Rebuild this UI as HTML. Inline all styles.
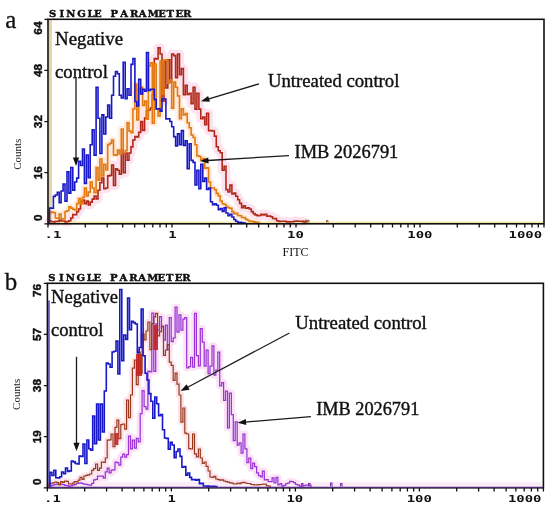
<!DOCTYPE html>
<html><head><meta charset="utf-8"><style>
*{margin:0;padding:0}
html,body{width:550px;height:508px;background:#fff;overflow:hidden}
svg{display:block}
.hdr{font-family:"DejaVu Serif",serif;font-weight:bold;font-size:10px;fill:#111;stroke:#111;stroke-width:0.45px}
.let{font-family:"Liberation Serif",serif;font-size:25px;fill:#111;stroke:#111;stroke-width:0.3px}
.tl{font-family:"DejaVu Sans Mono",monospace;font-weight:bold;font-size:9.4px;fill:#111}
.yl{font-family:"Liberation Sans",sans-serif;font-weight:bold;font-size:11.8px;fill:#111;stroke:#111;stroke-width:0.45px}
.ax{font-family:"Liberation Serif",serif;font-size:11px;fill:#222}
.fitc{font-family:"Liberation Serif",serif;font-size:12px;fill:#111}
.ann{font-family:"Liberation Serif",serif;font-size:18.5px;fill:#111;stroke:#111;stroke-width:0.4px}
</style></head>
<body><svg width="550" height="508" viewBox="0 0 550 508">
<path d="M49.5 223.8V221.0H51.4V221.7H53.4V222.0H55.3V221.2H57.3V221.4H59.2V220.0H61.1V221.0H63.1V221.0H65.0V222.0H67.0V221.5H68.9V220.7H70.8V218.0H72.8V214.6H74.7V214.7H76.7V211.8H78.6V209.0H80.5V201.4H82.5V200.0H84.4V203.6H86.4V201.1H88.3V205.0H90.2V202.1H92.2V199.1H94.1V196.0H96.1V199.0H98.0V190.2H99.9V182.7H101.9V178.0H103.8V188.8H105.8V188.0H107.7V175.9H109.6V175.4H111.6V165.0H113.5V185.5H115.5V168.8H117.4V170.3H119.3V174.2H121.3V150.0H123.2V172.6H125.2V153.0H127.1V160.2H129.0V153.0H131.0V146.9H132.9V140.0H134.9V136.6H136.8V136.9H138.7V132.4H140.7V121.5H142.6V130.4H144.6V118.0H146.5V111.0H148.4V110.0H150.4V108.0H152.3V95.0H154.3V58.6H156.2V58.9H158.1V47.7H160.1V54.0H162.0V101.2H164.0V61.7H165.9V88.0H167.8V59.7H169.8V81.6H171.7V54.0H173.7V55.6H175.6V77.6H177.5V54.0H179.5V74.8H181.4V68.6H183.4V94.8H185.3V85.3H187.2V94.4H189.2V93.2H191.1V103.6H193.1V87.3H195.0V109.1H196.9V93.2H198.9V109.1H200.8V118.8H202.8V117.0H204.7V124.7H206.6V113.3H208.6V130.6H210.5V130.6H212.5V131.0H214.4V136.1H216.3V146.7H218.3V150.8H220.2V152.8H222.2V170.2H224.1V166.3H226.0V189.6H228.0V192.0H229.9V185.1H231.9V194.0H233.8V193.0H235.7V196.2H237.7V199.8H239.6V203.4H241.6V207.7H243.5V205.7H245.4V208.2H247.4V207.7H249.3V209.0H251.3V211.6H253.2V213.6H255.1V214.9H257.1V215.6H259.0V215.5H261.0V214.2H262.9V215.0H264.8V214.2H266.8V216.1H268.7V216.0H270.7V216.7H272.6V218.5H274.5V218.6H276.5V220.8H278.4V221.4H280.4V221.2H282.3V221.2H284.2V221.3H286.2V221.9H288.1V222.0H290.1V221.7H292.0V221.8H293.9V221.2H295.9V221.0H297.8V221.3H299.8V221.2H301.7V221.4H303.6V222.0H305.6V223.8" stroke="#fde3ef" stroke-width="9" fill="none" stroke-linejoin="round"/>
<path d="M49.5 223.8V212.6H51.4V212.0H53.4V212.7H55.3V218.0H57.3V218.3H59.2V214.0H61.1V218.7H63.1V219.0H65.0V211.5H67.0V210.8H68.9V206.8H70.8V208.1H72.8V209.2H74.7V210.0H76.7V203.5H78.6V198.5H80.5V204.0H82.5V197.2H84.4V188.0H86.4V196.0H88.3V192.1H90.2V182.0H92.2V188.0H94.1V192.7H96.1V167.5H98.0V180.1H99.9V159.0H101.9V175.9H103.8V164.2H105.8V170.0H107.7V144.6H109.6V143.4H111.6V140.0H113.5V154.9H115.5V155.3H117.4V150.0H119.3V153.9H121.3V129.0H123.2V152.8H125.2V150.6H127.1V122.8H129.0V131.1H131.0V132.8H132.9V109.0H134.9V84.0H136.8V119.9H138.7V89.0H140.7V87.3H142.6V105.4H144.6V101.1H146.5V119.1H148.4V66.0H150.4V62.7H152.3V123.2H154.3V64.0H156.2V108.9H158.1V115.9H160.1V61.0H162.0V93.9H164.0V59.7H165.9V60.3H167.8V83.3H169.8V80.0H171.7V108.1H173.7V82.0H175.6V87.2H177.5V95.9H179.5V118.8H181.4V108.8H183.4V115.0H185.3V113.6H187.2V122.8H189.2V127.8H191.1V135.0H193.1V137.5H195.0V144.7H196.9V155.9H198.9V156.5H200.8V160.0H202.8V158.5H204.7V168.3H206.6V167.9H208.6V182.0H210.5V188.0H212.5V188.0H214.4V189.7H216.3V193.4H218.3V195.9H220.2V201.0H222.2V203.7H224.1V204.5H226.0V206.6H228.0V207.7H229.9V208.2H231.9V211.6H233.8V213.6H235.7V213.2H237.7V215.5H239.6V215.7H241.6V217.5H243.5V217.6H245.4V219.3H247.4V220.3H249.3V221.5H251.3V221.4H253.2V221.9H255.1V222.3H257.1V222.5H259.0V223.8" stroke="#ffeadb" stroke-width="6" fill="none" stroke-linejoin="round"/>
<path d="M49.0 487.7V486.0H50.9V485.5H52.9V484.9H54.8V484.5H56.8V484.2H58.7V484.0H60.6V484.2H62.6V484.5H64.5V485.3H66.5V485.6H68.4V486.0H70.3V485.8H72.3V485.2H74.2V484.6H76.2V483.3H78.1V483.0H80.0V482.8H82.0V483.5H83.9V484.0H85.9V484.4H87.8V484.9H89.7V485.0H91.7V483.3H93.6V479.8H95.6V479.4H97.5V476.0H99.4V476.0H101.4V476.1H103.3V478.0H105.3V471.9H107.2V468.0H109.1V472.9H111.1V470.0H113.0V469.9H115.0V462.0H116.9V462.7H118.8V465.0H120.8V457.0H122.7V454.0H124.7V457.1H126.6V454.6H128.5V436.0H130.5V448.9H132.4V440.0H134.4V448.0H136.3V438.3H138.2V441.8H140.2V413.5H142.1V390.5H144.1V406.7H146.0V409.1H147.9V371.0H149.9V371.8H151.8V313.0H153.8V371.3H155.7V323.8H157.6V330.0H159.6V316.5H161.5V326.8H163.5V340.0H165.4V325.0H167.3V349.5H169.3V317.6H171.2V341.6H173.2V337.8H175.1V307.0H177.0V332.0H179.0V314.9H180.9V330.0H182.9V319.0H184.8V317.6H186.7V367.8H188.7V366.6H190.6V357.4H192.6V367.1H194.5V313.3H196.4V355.7H198.4V365.9H200.3V328.5H202.3V342.1H204.2V366.1H206.1V350.0H208.1V373.7H210.0V366.1H212.0V345.8H213.9V375.2H215.8V370.0H217.8V352.0H219.7V385.8H221.7V382.6H223.6V400.3H225.5V391.0H227.5V427.8H229.4V393.0H231.4V414.6H233.3V440.5H235.2V421.8H237.2V445.0H239.1V442.8H241.1V453.2H243.0V434.0H244.9V448.9H246.9V462.7H248.8V458.0H250.8V468.5H252.7V463.1H254.6V466.6H256.6V472.8H258.5V475.7H260.5V476.9H262.4V471.0H264.3V479.8H266.3V479.6H268.2V481.5H270.2V481.7H272.1V477.9H274.0V482.9H276.0V477.4H277.9V484.8H279.9V483.7H281.8V486.0H283.7V485.4H285.7V483.7H287.6V483.1H289.6V481.3H291.5V481.7H293.4V482.6H295.4V484.4H297.3V484.8H299.3V486.0H301.2V485.9H303.1V485.5H305.1V485.2H307.0V485.1H309.0V485.0H310.9V487.7" stroke="#fbe3f7" stroke-width="7" fill="none" stroke-linejoin="round"/>
<path d="M49.0 487.7V484.0H50.9V483.2H52.9V482.9H54.8V482.0H56.8V482.7H58.7V485.0H60.6V481.6H62.6V482.3H64.5V481.0H66.5V481.4H68.4V483.8H70.3V484.0H72.3V483.2H74.2V481.7H76.2V482.0H78.1V480.2H80.0V477.4H82.0V479.4H83.9V476.0H85.9V475.4H87.8V474.8H89.7V474.0H91.7V470.3H93.6V468.7H95.6V464.0H97.5V470.3H99.4V468.1H101.4V462.0H103.3V462.4H105.3V458.0H107.2V440.2H109.1V439.8H111.1V434.0H113.0V446.6H115.0V427.3H116.9V420.0H118.8V438.7H120.8V424.7H122.7V424.0H124.7V429.2H126.6V400.0H128.5V417.7H130.5V395.0H132.4V368.2H134.4V360.0H136.3V384.7H138.2V352.0H140.2V373.5H142.1V334.1H144.1V340.0H146.0V331.0H147.9V322.0H149.9V349.6H151.8V323.6H153.8V316.8H155.7V313.3H157.6V335.9H159.6V331.7H161.5V326.0H163.5V355.4H165.4V350.0H167.3V344.6H169.3V362.2H171.2V365.3H173.2V380.4H175.1V373.1H177.0V384.2H179.0V395.0H180.9V422.1H182.9V408.0H184.8V433.1H186.7V434.0H188.7V448.6H190.6V449.0H192.6V434.0H194.5V453.9H196.4V456.8H198.4V449.0H200.3V458.0H202.3V463.4H204.2V462.0H206.1V466.4H208.1V471.0H210.0V477.0H212.0V477.4H213.9V476.4H215.8V479.0H217.8V479.6H219.7V480.1H221.7V479.9H223.6V481.0H225.5V481.7H227.5V482.2H229.4V482.8H231.4V483.2H233.3V484.0H235.2V483.9H237.2V483.0H239.1V483.6H241.1V482.6H243.0V482.3H244.9V483.0H246.9V483.5H248.8V483.5H250.8V484.5H252.7V484.6H254.6V485.0H256.6V484.9H258.5V484.7H260.5V484.5H262.4V484.1H264.3V484.0H266.3V485.6H268.2V486.0H270.2V487.7" stroke="#fde4ec" stroke-width="6" fill="none" stroke-linejoin="round"/>
<rect x="49" y="20.2" width="2.8" height="203" fill="#e6d0a0"/>
<rect x="49" y="221.6" width="494" height="1.4" fill="#f1e6a8"/>
<rect x="49" y="482" width="493" height="4.8" fill="#fcecf8"/>
<path d="M305 222.5V220.3H306.5V222.5M307.5 222.5V220.3H309V222.5M326.5 222.5V220.5H328V222.5" stroke="#8a5a20" stroke-width="1" fill="none"/>
<path d="M301.5 486.5V483.5H303V486.5M308.5 486.5V483.5H310V486.5M330.5 486.5V483H332V486.5M340.5 486.5V483.5H342V486.5" stroke="#7a30b0" stroke-width="1.1" fill="none"/>
<rect x="48" y="300.5" width="2" height="187" fill="#7a70dc"/>
<path d="M49.5 223.8V221.0H51.4V221.7H53.4V222.0H55.3V221.2H57.3V221.4H59.2V220.0H61.1V221.0H63.1V221.0H65.0V222.0H67.0V221.5H68.9V220.7H70.8V218.0H72.8V214.6H74.7V214.7H76.7V211.8H78.6V209.0H80.5V201.4H82.5V200.0H84.4V203.6H86.4V201.1H88.3V205.0H90.2V202.1H92.2V199.1H94.1V196.0H96.1V199.0H98.0V190.2H99.9V182.7H101.9V178.0H103.8V188.8H105.8V188.0H107.7V175.9H109.6V175.4H111.6V165.0H113.5V185.5H115.5V168.8H117.4V170.3H119.3V174.2H121.3V150.0H123.2V172.6H125.2V153.0H127.1V160.2H129.0V153.0H131.0V146.9H132.9V140.0H134.9V136.6H136.8V136.9H138.7V132.4H140.7V121.5H142.6V130.4H144.6V118.0H146.5V111.0H148.4V110.0H150.4V108.0H152.3V95.0H154.3V58.6H156.2V58.9H158.1V47.7H160.1V54.0H162.0V101.2H164.0V61.7H165.9V88.0H167.8V59.7H169.8V81.6H171.7V54.0H173.7V55.6H175.6V77.6H177.5V54.0H179.5V74.8H181.4V68.6H183.4V94.8H185.3V85.3H187.2V94.4H189.2V93.2H191.1V103.6H193.1V87.3H195.0V109.1H196.9V93.2H198.9V109.1H200.8V118.8H202.8V117.0H204.7V124.7H206.6V113.3H208.6V130.6H210.5V130.6H212.5V131.0H214.4V136.1H216.3V146.7H218.3V150.8H220.2V152.8H222.2V170.2H224.1V166.3H226.0V189.6H228.0V192.0H229.9V185.1H231.9V194.0H233.8V193.0H235.7V196.2H237.7V199.8H239.6V203.4H241.6V207.7H243.5V205.7H245.4V208.2H247.4V207.7H249.3V209.0H251.3V211.6H253.2V213.6H255.1V214.9H257.1V215.6H259.0V215.5H261.0V214.2H262.9V215.0H264.8V214.2H266.8V216.1H268.7V216.0H270.7V216.7H272.6V218.5H274.5V218.6H276.5V220.8H278.4V221.4H280.4V221.2H282.3V221.2H284.2V221.3H286.2V221.9H288.1V222.0H290.1V221.7H292.0V221.8H293.9V221.2H295.9V221.0H297.8V221.3H299.8V221.2H301.7V221.4H303.6V222.0H305.6V223.8" stroke="#b02818" stroke-width="1.6" fill="none" stroke-linejoin="miter"/>
<path d="M49.5 223.8V212.6H51.4V212.0H53.4V212.7H55.3V218.0H57.3V218.3H59.2V214.0H61.1V218.7H63.1V219.0H65.0V211.5H67.0V210.8H68.9V206.8H70.8V208.1H72.8V209.2H74.7V210.0H76.7V203.5H78.6V198.5H80.5V204.0H82.5V197.2H84.4V188.0H86.4V196.0H88.3V192.1H90.2V182.0H92.2V188.0H94.1V192.7H96.1V167.5H98.0V180.1H99.9V159.0H101.9V175.9H103.8V164.2H105.8V170.0H107.7V144.6H109.6V143.4H111.6V140.0H113.5V154.9H115.5V155.3H117.4V150.0H119.3V153.9H121.3V129.0H123.2V152.8H125.2V150.6H127.1V122.8H129.0V131.1H131.0V132.8H132.9V109.0H134.9V84.0H136.8V119.9H138.7V89.0H140.7V87.3H142.6V105.4H144.6V101.1H146.5V119.1H148.4V66.0H150.4V62.7H152.3V123.2H154.3V64.0H156.2V108.9H158.1V115.9H160.1V61.0H162.0V93.9H164.0V59.7H165.9V60.3H167.8V83.3H169.8V80.0H171.7V108.1H173.7V82.0H175.6V87.2H177.5V95.9H179.5V118.8H181.4V108.8H183.4V115.0H185.3V113.6H187.2V122.8H189.2V127.8H191.1V135.0H193.1V137.5H195.0V144.7H196.9V155.9H198.9V156.5H200.8V160.0H202.8V158.5H204.7V168.3H206.6V167.9H208.6V182.0H210.5V188.0H212.5V188.0H214.4V189.7H216.3V193.4H218.3V195.9H220.2V201.0H222.2V203.7H224.1V204.5H226.0V206.6H228.0V207.7H229.9V208.2H231.9V211.6H233.8V213.6H235.7V213.2H237.7V215.5H239.6V215.7H241.6V217.5H243.5V217.6H245.4V219.3H247.4V220.3H249.3V221.5H251.3V221.4H253.2V221.9H255.1V222.3H257.1V222.5H259.0V223.8" stroke="#e27a14" stroke-width="1.6" fill="none" stroke-linejoin="miter"/>
<path d="M49.5 223.8V208.0H51.4V208.3H53.4V196.4H55.3V195.0H57.3V192.3H59.2V202.6H61.1V191.0H63.1V184.0H65.0V201.1H67.0V171.7H68.9V193.1H70.8V167.5H72.8V190.1H74.7V182.0H76.7V178.1H78.6V161.3H80.5V165.5H82.5V149.0H84.4V183.4H86.4V155.0H88.3V177.6H90.2V144.8H92.2V129.8H94.1V155.1H96.1V87.3H98.0V118.2H99.9V153.5H101.9V114.9H103.8V134.0H105.8V117.0H107.7V105.0H109.6V118.3H111.6V95.2H113.5V76.2H115.5V71.5H117.4V73.7H119.3V95.2H121.3V97.9H123.2V62.3H125.2V98.7H127.1V88.8H129.0V95.2H131.0V64.4H132.9V58.6H134.9V101.5H136.8V106.0H138.7V79.4H140.7V93.9H142.6V89.3H144.6V91.3H146.5V52.5H148.4V90.4H150.4V89.3H152.3V89.3H154.3V99.4H156.2V109.0H158.1V108.7H160.1V111.1H162.0V99.0H164.0V99.0H165.9V119.0H167.8V118.8H169.8V121.5H171.7V126.7H173.7V136.6H175.6V145.9H177.5V133.9H179.5V144.8H181.4V130.6H183.4V145.4H185.3V140.7H187.2V168.7H189.2V143.7H191.1V160.4H193.1V162.4H195.0V185.0H196.9V170.3H198.9V188.8H200.8V164.4H202.8V181.4H204.7V178.0H206.6V189.4H208.6V188.1H210.5V201.8H212.5V204.8H214.4V203.7H216.3V205.3H218.3V209.6H220.2V208.6H222.2V211.4H224.1V207.7H226.0V213.0H228.0V215.6H229.9V214.3H231.9V217.0H233.8V219.5H235.7V221.3H237.7V222.4H239.6V222.2H241.6V222.9H243.5V223.0H245.4V223.8" stroke="#1818c8" stroke-width="1.6" fill="none" stroke-linejoin="miter"/>
<path d="M49.0 487.7V486.0H50.9V485.5H52.9V484.9H54.8V484.5H56.8V484.2H58.7V484.0H60.6V484.2H62.6V484.5H64.5V485.3H66.5V485.6H68.4V486.0H70.3V485.8H72.3V485.2H74.2V484.6H76.2V483.3H78.1V483.0H80.0V482.8H82.0V483.5H83.9V484.0H85.9V484.4H87.8V484.9H89.7V485.0H91.7V483.3H93.6V479.8H95.6V479.4H97.5V476.0H99.4V476.0H101.4V476.1H103.3V478.0H105.3V471.9H107.2V468.0H109.1V472.9H111.1V470.0H113.0V469.9H115.0V462.0H116.9V462.7H118.8V465.0H120.8V457.0H122.7V454.0H124.7V457.1H126.6V454.6H128.5V436.0H130.5V448.9H132.4V440.0H134.4V448.0H136.3V438.3H138.2V441.8H140.2V413.5H142.1V390.5H144.1V406.7H146.0V409.1H147.9V371.0H149.9V371.8H151.8V313.0H153.8V371.3H155.7V323.8H157.6V330.0H159.6V316.5H161.5V326.8H163.5V340.0H165.4V325.0H167.3V349.5H169.3V317.6H171.2V341.6H173.2V337.8H175.1V307.0H177.0V332.0H179.0V314.9H180.9V330.0H182.9V319.0H184.8V317.6H186.7V367.8H188.7V366.6H190.6V357.4H192.6V367.1H194.5V313.3H196.4V355.7H198.4V365.9H200.3V328.5H202.3V342.1H204.2V366.1H206.1V350.0H208.1V373.7H210.0V366.1H212.0V345.8H213.9V375.2H215.8V370.0H217.8V352.0H219.7V385.8H221.7V382.6H223.6V400.3H225.5V391.0H227.5V427.8H229.4V393.0H231.4V414.6H233.3V440.5H235.2V421.8H237.2V445.0H239.1V442.8H241.1V453.2H243.0V434.0H244.9V448.9H246.9V462.7H248.8V458.0H250.8V468.5H252.7V463.1H254.6V466.6H256.6V472.8H258.5V475.7H260.5V476.9H262.4V471.0H264.3V479.8H266.3V479.6H268.2V481.5H270.2V481.7H272.1V477.9H274.0V482.9H276.0V477.4H277.9V484.8H279.9V483.7H281.8V486.0H283.7V485.4H285.7V483.7H287.6V483.1H289.6V481.3H291.5V481.7H293.4V482.6H295.4V484.4H297.3V484.8H299.3V486.0H301.2V485.9H303.1V485.5H305.1V485.2H307.0V485.1H309.0V485.0H310.9V487.7" stroke="#9a34d4" stroke-width="1.25" fill="none" stroke-linejoin="miter"/>
<path d="M49.0 487.7V484.0H50.9V483.2H52.9V482.9H54.8V482.0H56.8V482.7H58.7V485.0H60.6V481.6H62.6V482.3H64.5V481.0H66.5V481.4H68.4V483.8H70.3V484.0H72.3V483.2H74.2V481.7H76.2V482.0H78.1V480.2H80.0V477.4H82.0V479.4H83.9V476.0H85.9V475.4H87.8V474.8H89.7V474.0H91.7V470.3H93.6V468.7H95.6V464.0H97.5V470.3H99.4V468.1H101.4V462.0H103.3V462.4H105.3V458.0H107.2V440.2H109.1V439.8H111.1V434.0H113.0V446.6H115.0V427.3H116.9V420.0H118.8V438.7H120.8V424.7H122.7V424.0H124.7V429.2H126.6V400.0H128.5V417.7H130.5V395.0H132.4V368.2H134.4V360.0H136.3V384.7H138.2V352.0H140.2V373.5H142.1V334.1H144.1V340.0H146.0V331.0H147.9V322.0H149.9V349.6H151.8V323.6H153.8V316.8H155.7V313.3H157.6V335.9H159.6V331.7H161.5V326.0H163.5V355.4H165.4V350.0H167.3V344.6H169.3V362.2H171.2V365.3H173.2V380.4H175.1V373.1H177.0V384.2H179.0V395.0H180.9V422.1H182.9V408.0H184.8V433.1H186.7V434.0H188.7V448.6H190.6V449.0H192.6V434.0H194.5V453.9H196.4V456.8H198.4V449.0H200.3V458.0H202.3V463.4H204.2V462.0H206.1V466.4H208.1V471.0H210.0V477.0H212.0V477.4H213.9V476.4H215.8V479.0H217.8V479.6H219.7V480.1H221.7V479.9H223.6V481.0H225.5V481.7H227.5V482.2H229.4V482.8H231.4V483.2H233.3V484.0H235.2V483.9H237.2V483.0H239.1V483.6H241.1V482.6H243.0V482.3H244.9V483.0H246.9V483.5H248.8V483.5H250.8V484.5H252.7V484.6H254.6V485.0H256.6V484.9H258.5V484.7H260.5V484.5H262.4V484.1H264.3V484.0H266.3V485.6H268.2V486.0H270.2V487.7" stroke="#96391c" stroke-width="1.2" fill="none" stroke-linejoin="miter"/>
<g fill="#c41c1c" opacity="0.85"><rect x="114.5" y="433" width="4" height="12"/><rect x="136" y="354" width="6" height="22"/><rect x="153.5" y="325" width="4.5" height="25"/></g>
<path d="M50.0 487.7V472.3H51.9V475.5H53.9V470.3H55.8V477.7H57.8V478.0H59.7V476.7H61.6V472.0H63.6V473.7H65.5V468.0H67.5V471.5H69.4V470.9H71.3V461.0H73.3V461.9H75.2V463.5H77.2V464.0H79.1V456.0H81.0V456.4H83.0V444.0H84.9V463.5H86.9V440.0H88.8V448.8H90.7V450.3H92.7V416.0H94.6V443.7H96.6V404.0H98.5V440.0H100.4V404.0H102.4V432.0H104.3V391.0H106.3V363.0H108.2V364.0H110.1V367.3H112.1V352.0H114.0V351.3H116.0V341.1H117.9V374.0H119.8V289.5H121.8V360.8H123.7V335.0H125.7V339.4H127.6V298.0H129.5V329.8H131.5V321.4H133.4V322.6H135.4V324.0H137.3V352.6H139.2V347.5H141.2V309.0H143.1V355.8H145.1V373.2H147.0V380.0H148.9V393.6H150.9V401.3H152.8V418.1H154.8V397.0H156.7V403.8H158.6V415.6H160.6V414.6H162.5V429.8H164.5V438.0H166.4V438.4H168.3V449.2H170.3V442.4H172.2V445.0H174.2V457.6H176.1V451.5H178.0V449.0H180.0V456.4H181.9V467.2H183.9V466.6H185.8V475.1H187.7V473.0H189.7V477.4H191.6V479.6H193.6V479.5H195.5V480.3H197.4V479.6H199.4V483.6H201.3V483.3H203.3V486.0H205.2V486.0H207.1V486.1H209.1V486.2H211.0V486.4H213.0V486.4H214.9V486.5H216.8V487.7" stroke="#1818c8" stroke-width="1.6" fill="none" stroke-linejoin="miter"/>
<text x="48.9 59.5 66.3 77.2 87.4 94.0" y="17.0" class="hdr">SINGLE</text>
<text x="110.5 120.2 129.9 138.8 147.8 158.2 166.5 175.4 182.9" y="17.0" class="hdr">PARAMETER</text>
<text x="5.3" y="27.6" class="let">a</text>
<path d="M48.0 223.8V227.6M85.3 223.8V227.6M107.2 223.8V227.6M122.7 223.8V227.6M134.7 223.8V227.6M144.5 223.8V227.6M152.8 223.8V227.6M160.0 223.8V227.6M166.3 223.8V227.6M172.0 223.8V227.6M209.3 223.8V227.6M231.2 223.8V227.6M246.7 223.8V227.6M258.7 223.8V227.6M268.5 223.8V227.6M276.8 223.8V227.6M284.0 223.8V227.6M290.3 223.8V227.6M296.0 223.8V227.6M333.3 223.8V227.6M355.2 223.8V227.6M370.7 223.8V227.6M382.7 223.8V227.6M392.5 223.8V227.6M400.8 223.8V227.6M408.0 223.8V227.6M414.3 223.8V227.6M420.0 223.8V227.6M457.3 223.8V227.6M479.2 223.8V227.6M494.7 223.8V227.6M506.7 223.8V227.6M516.5 223.8V227.6M524.8 223.8V227.6M532.0 223.8V227.6M538.3 223.8V227.6M544.0 223.8V227.6" stroke="#111" stroke-width="1.3" fill="none"/>
<path d="M48.0 223.8H44.4M48.0 172.7H44.4M48.0 121.6H44.4M48.0 70.4H44.4M48.0 19.3H44.4" stroke="#111" stroke-width="1.3" fill="none"/>
<rect x="48.0" y="19.3" width="496.0" height="204.5" fill="none" stroke="#111" stroke-width="1.6"/>
<text x="44.6" y="237.6" class="tl" textLength="16.8" lengthAdjust="spacingAndGlyphs">.1</text>
<text x="168.2" y="237.6" class="tl" textLength="8.4" lengthAdjust="spacingAndGlyphs">1</text>
<text x="287.0" y="237.6" class="tl" textLength="16.8" lengthAdjust="spacingAndGlyphs">10</text>
<text x="407.3" y="237.6" class="tl" textLength="25.2" lengthAdjust="spacingAndGlyphs">100</text>
<text x="508.5" y="237.6" class="tl" textLength="33.6" lengthAdjust="spacingAndGlyphs">1000</text>
<text transform="translate(41.9 217.6) rotate(-90)" class="yl" text-anchor="middle">0</text>
<text transform="translate(41.9 172.7) rotate(-90)" class="yl" text-anchor="middle">16</text>
<text transform="translate(41.9 121.6) rotate(-90)" class="yl" text-anchor="middle">32</text>
<text transform="translate(41.9 70.4) rotate(-90)" class="yl" text-anchor="middle">48</text>
<text transform="translate(41.9 28.1) rotate(-90)" class="yl" text-anchor="middle">64</text>
<text transform="translate(20.6 154.2) rotate(-90)" class="ax" text-anchor="middle">Counts</text>
<text x="282.5" y="256" class="fitc">FITC</text>
<text x="48.3 58.9 65.7 76.6 86.8 93.4" y="281.0" class="hdr">SINGLE</text>
<text x="109.9 119.6 129.3 138.2 147.2 157.6 165.9 174.8 182.3" y="281.0" class="hdr">PARAMETER</text>
<text x="4.7" y="289.8" class="let">b</text>
<path d="M47.4 487.8V491.6M84.7 487.8V491.6M106.6 487.8V491.6M122.1 487.8V491.6M134.1 487.8V491.6M143.9 487.8V491.6M152.2 487.8V491.6M159.4 487.8V491.6M165.7 487.8V491.6M171.4 487.8V491.6M208.7 487.8V491.6M230.6 487.8V491.6M246.1 487.8V491.6M258.1 487.8V491.6M267.9 487.8V491.6M276.2 487.8V491.6M283.4 487.8V491.6M289.7 487.8V491.6M295.4 487.8V491.6M332.7 487.8V491.6M354.6 487.8V491.6M370.1 487.8V491.6M382.1 487.8V491.6M391.9 487.8V491.6M400.2 487.8V491.6M407.4 487.8V491.6M413.7 487.8V491.6M419.4 487.8V491.6M456.7 487.8V491.6M478.6 487.8V491.6M494.1 487.8V491.6M506.1 487.8V491.6M515.9 487.8V491.6M524.2 487.8V491.6M531.4 487.8V491.6M537.7 487.8V491.6M543.4 487.8V491.6" stroke="#111" stroke-width="1.3" fill="none"/>
<path d="M47.4 487.8H43.8M47.4 436.7H43.8M47.4 385.6H43.8M47.4 334.4H43.8M47.4 283.3H43.8" stroke="#111" stroke-width="1.3" fill="none"/>
<rect x="47.4" y="283.3" width="496.0" height="204.5" fill="none" stroke="#111" stroke-width="1.6"/>
<text x="44.0" y="501.6" class="tl" textLength="16.8" lengthAdjust="spacingAndGlyphs">.1</text>
<text x="167.6" y="501.6" class="tl" textLength="8.4" lengthAdjust="spacingAndGlyphs">1</text>
<text x="286.4" y="501.6" class="tl" textLength="16.8" lengthAdjust="spacingAndGlyphs">10</text>
<text x="406.7" y="501.6" class="tl" textLength="25.2" lengthAdjust="spacingAndGlyphs">100</text>
<text x="507.9" y="501.6" class="tl" textLength="33.6" lengthAdjust="spacingAndGlyphs">1000</text>
<text transform="translate(41.3 481.6) rotate(-90)" class="yl" text-anchor="middle">0</text>
<text transform="translate(41.3 436.7) rotate(-90)" class="yl" text-anchor="middle">19</text>
<text transform="translate(41.3 385.6) rotate(-90)" class="yl" text-anchor="middle">38</text>
<text transform="translate(41.3 334.4) rotate(-90)" class="yl" text-anchor="middle">57</text>
<text transform="translate(41.3 290.5) rotate(-90)" class="yl" text-anchor="middle">76</text>
<text transform="translate(20.0 394.3) rotate(-90)" class="ax" text-anchor="middle">Counts</text>
<path d="M48.5 487.4H542.3" stroke="#4c2a78" stroke-width="1.2"/>
<text x="55.0" y="45.4" class="ann" textLength="68.2" lengthAdjust="spacingAndGlyphs">Negative</text>
<text x="55.0" y="78" class="ann" textLength="52.9" lengthAdjust="spacingAndGlyphs">control</text>
<text x="268.0" y="86.5" class="ann" textLength="131.4" lengthAdjust="spacingAndGlyphs">Untreated control</text>
<text x="294.5" y="157.5" class="ann" textLength="103.8" lengthAdjust="spacingAndGlyphs">IMB 2026791</text>
<text x="51.1" y="302.7" class="ann" textLength="66.9" lengthAdjust="spacingAndGlyphs">Negative</text>
<text x="51.1" y="335.5" class="ann" textLength="52.4" lengthAdjust="spacingAndGlyphs">control</text>
<text x="295.3" y="329.1" class="ann" textLength="131.5" lengthAdjust="spacingAndGlyphs">Untreated control</text>
<text x="316.2" y="415" class="ann" textLength="103.1" lengthAdjust="spacingAndGlyphs">IMB 2026791</text>
<path d="M76.0 78.0L76.0 158.5" stroke="#1a1a1a" stroke-width="1.3" fill="none"/><path d="M76.0 166.0L72.9 157.5L79.1 157.5Z" fill="#111"/>
<path d="M259.0 83.8L208.1 99.1" stroke="#1a1a1a" stroke-width="1.3" fill="none"/><path d="M200.9 101.3L208.1 95.9L209.9 101.8Z" fill="#111"/>
<path d="M289.0 155.6L207.5 160.5" stroke="#1a1a1a" stroke-width="1.3" fill="none"/><path d="M200.0 161.0L208.3 157.4L208.7 163.6Z" fill="#111"/>
<path d="M76.5 356.8L76.5 443.8" stroke="#1a1a1a" stroke-width="1.3" fill="none"/><path d="M76.5 451.3L73.4 442.8L79.6 442.8Z" fill="#111"/>
<path d="M289.4 333.0L187.2 387.5" stroke="#1a1a1a" stroke-width="1.3" fill="none"/><path d="M180.6 391.0L186.6 384.3L189.6 389.7Z" fill="#111"/>
<path d="M310.9 416.7L245.1 422.1" stroke="#1a1a1a" stroke-width="1.3" fill="none"/><path d="M237.6 422.7L245.8 418.9L246.3 425.1Z" fill="#111"/>
</svg></body></html>
